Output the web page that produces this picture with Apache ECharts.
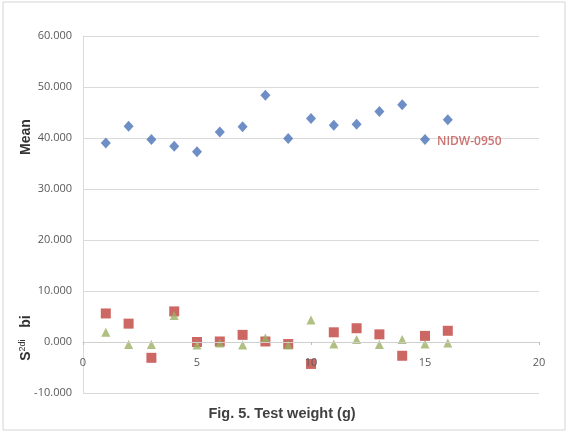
<!DOCTYPE html>
<html>
<head>
<meta charset="utf-8">
<script src="https://cdn.jsdelivr.net/npm/echarts@6/dist/echarts.min.js"></script>
<style>
  html, body { margin: 0; padding: 0; background: #fff; }
  #chart { width: 569px; height: 432px; }
</style>
</head>
<body>
<div id="chart"></div>
<script>
// Test weight (g): stability parameters per genotype
const genotypes = [1, 2, 3, 4, 5, 6, 7, 8, 9, 10, 11, 12, 13, 14, 15, 16];
const meanValues = [39.0, 42.3, 39.7, 38.4, 37.3, 41.2, 42.2, 48.4, 39.9, 43.8, 42.5, 42.7, 45.2, 46.5, 39.7, 43.6];
const s2diValues = [5.6, 3.6, -3.1, 6.0, 0.0, 0.1, 1.4, 0.1, -0.4, -4.3, 1.9, 2.7, 1.5, -2.7, 1.2, 2.2];
const biValues = [1.9, -0.5, -0.5, 5.2, -0.6, -0.2, -0.6, 0.8, -0.6, 4.3, -0.4, 0.5, -0.5, 0.5, -0.4, -0.2];
const xTicks = [0, 5, 10, 15, 20];
const highlightLabel = 'NIDW-0950';
const highlightIndex = 14;

const pairs = (vals) => genotypes.map((g, i) => [g, vals[i]]);

const meanData = pairs(meanValues).map((p, i) => i === highlightIndex ? {
  value: p,
  label: {
    show: true, position: 'right', distance: 7, offset: [0, 2],
    formatter: highlightLabel, color: '#C0504D', fontSize: 12,
    fontFamily: 'Open Sans', fontWeight: 600
  }
} : p);

const chart = echarts.init(document.getElementById('chart'), null, { renderer: 'canvas' });

const gridTop = 36, gridBottom = 39, yMin = -10, yMax = 60;
const plotH = 432 - gridTop - gridBottom;
// distance from the plot bottom up to the zero line
const zeroLift = plotH * (0 - yMin) / (yMax - yMin);

chart.setOption({
  animation: false,
  backgroundColor: '#ffffff',
  grid: { left: 83, right: 30, top: gridTop, bottom: gridBottom, containLabel: false },
  graphic: [
    {
      type: 'rect', z: -10, silent: true,
      shape: { x: 3, y: 2, width: 562, height: 428 },
      style: { fill: 'none', stroke: '#d4d4d4', lineWidth: 1 }
    },
    {
      type: 'text', x: 282, y: 414,
      style: { text: 'Fig. 5. Test weight (g)', fill: '#404040', font: 'bold 14.5px "Liberation Sans", Arial, sans-serif', textAlign: 'center', textVerticalAlign: 'middle' }
    },
    {
      type: 'text', rotation: Math.PI / 2, x: 26, y: 137,
      style: { text: 'Mean', fill: '#333333', font: 'bold 14px "Liberation Sans", Arial, sans-serif', textAlign: 'center', textVerticalAlign: 'middle' }
    },
    {
      type: 'text', rotation: Math.PI / 2, x: 26, y: 338,
      style: {
        text: '{s|S}{sup|2di}{s|   bi}',
        textAlign: 'center', textVerticalAlign: 'middle',
        rich: {
          s: { font: 'bold 14px "Liberation Sans", Arial, sans-serif', fill: '#333333', verticalAlign: 'bottom' },
          sup: { font: '9px "Liberation Sans", Arial, sans-serif', fill: '#333333', verticalAlign: 'top', padding: [0, 0, 6, 0] }
        }
      }
    }
  ],
  xAxis: {
    type: 'value', min: 0, max: 20, interval: 5, z: 3,
    position: 'bottom', offset: -zeroLift,
    axisLine: { show: true, onZero: false, lineStyle: { color: '#cfcfcf', width: 1 } },
    axisTick: { show: true, length: 3, inside: false, lineStyle: { color: '#bdbdbd' } },
    axisLabel: {
      margin: 15, color: '#595959', fontSize: 11, fontFamily: 'Open Sans',
      customValues: xTicks
    },
    splitLine: { show: false }
  },
  yAxis: {
    type: 'value', min: yMin, max: yMax, interval: 10,
    axisLine: { show: true, lineStyle: { color: '#d9d9d9' } },
    axisTick: { show: false },
    axisLabel: {
      margin: 11, color: '#595959', fontSize: 11, fontFamily: 'Open Sans',
      formatter: (v) => v.toFixed(3)
    },
    splitLine: { show: true, lineStyle: { color: '#dadada', width: 1 } }
  },
  series: [
    {
      name: 'Mean', type: 'scatter', symbol: 'diamond', symbolSize: [10, 11],
      itemStyle: { color: '#4A72B8' }, data: meanData
    },
    {
      name: 'S2di', type: 'scatter', symbol: 'rect', symbolSize: 10, z: 1,
      itemStyle: { color: '#C0413D' }, data: pairs(s2diValues)
    },
    {
      name: 'bi', type: 'scatter', symbol: 'triangle', symbolSize: [9, 9], z: 2,
      itemStyle: { color: '#9BB063' }, data: pairs(biValues)
    }
  ]
});
</script>
</body>
</html>
